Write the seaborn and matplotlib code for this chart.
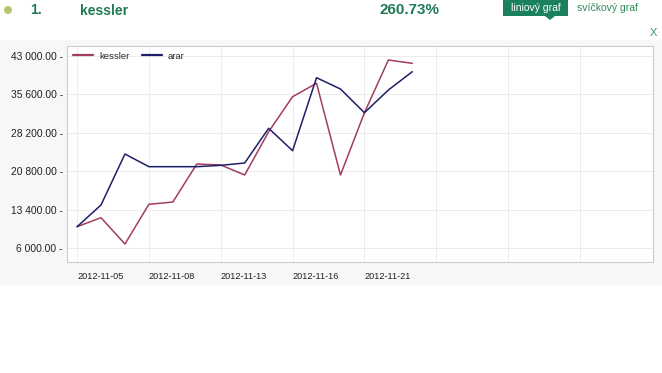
import numpy as np
import pandas as pd
import matplotlib
matplotlib.use("Agg")
import matplotlib.pyplot as plt
from matplotlib.patches import Rectangle, Polygon, Ellipse
import seaborn as sns

# trading days shown on the chart
dates = ["2012-11-05", "2012-11-06", "2012-11-07", "2012-11-08", "2012-11-09",
         "2012-11-12", "2012-11-13", "2012-11-14", "2012-11-15", "2012-11-16",
         "2012-11-19", "2012-11-20", "2012-11-21", "2012-11-22", "2012-11-23"]
kessler = [10100, 11840, 6770, 14420, 14860, 22190, 22000, 20070, 28400,
           35160, 37740, 20070, 32070, 42230, 41590]
arar = [10100, 14290, 24110, 21670, 21670, 21670, 21930, 22380, 29070,
        24750, 38820, 36640, 32070, 36450, 39980]
series_names = ["kessler", "arar"]
yticks = [6000, 13400, 20800, 28200, 35600, 43000]
label_every = 3

df = pd.DataFrame({
    "pos": list(range(len(dates))) * 2,
    "value": kessler + arar,
    "series": ["kessler"] * len(dates) + ["arar"] * len(dates),
})

sns.set_style("white")
plt.rcParams["font.family"] = ["Liberation Sans", "DejaVu Sans"]

fig = plt.figure(figsize=(6.62, 3.73), dpi=100)
fig.patch.set_facecolor("white")

# grey panel behind the chart
fig.patches.append(Rectangle((0, 1 - 285 / 373), 1, (285 - 40) / 373,
                             transform=fig.transFigure, facecolor="#f7f7f7",
                             edgecolor="none", zorder=-5))

ax = fig.add_axes([67 / 662, 1 - 262 / 373, (653 - 67) / 662, (262 - 46) / 373])
ax.set_zorder(2)
ax.set_facecolor("white")

sns.lineplot(data=df, x="pos", y="value", hue="series", hue_order=series_names,
             palette={"kessler": "#a23c60", "arar": "#1e1e68"},
             linewidth=1.1, ax=ax)

ax.set_xlim(-0.42, 24.05)
ax.set_ylim(3300, 44930)

tick_pos = list(range(0, len(dates), label_every))
ax.set_xticks(tick_pos)
ax.set_xticklabels([dates[i] for i in tick_pos], fontsize=6.6, color="#222222",
                   ha="left")
ax.set_xticks([15, 18, 21], minor=True)
ax.tick_params(axis="x", which="major", length=2.5, width=0.6, color="#999999",
               direction="out", pad=5)
ax.tick_params(axis="x", which="minor", length=0)
ax.set_yticks(yticks)
ax.set_yticklabels([f"{v:,.2f}".replace(",", " ") + " -" for v in yticks],
                   fontsize=7.4, color="#222222")
ax.tick_params(axis="y", length=0, pad=3)

ax.grid(True, which="both", color="#ececec", linewidth=0.7)
ax.set_axisbelow(True)
for s in ax.spines.values():
    s.set_color("#cccccc")
    s.set_linewidth(0.8)
ax.set_xlabel("")
ax.set_ylabel("")

leg = ax.legend(loc="upper left", ncol=2, frameon=False, fontsize=6.8,
                handlelength=2.2, columnspacing=1.3, handletextpad=0.6,
                borderaxespad=0.2, borderpad=0.4)
for line in leg.get_lines():
    line.set_linewidth(1.6)

# header above the chart
green = "#1f7a55"
fig.patches.append(Ellipse((8 / 662, 1 - 10 / 373), 8 / 662, 8 / 373,
                           transform=fig.transFigure, facecolor="#b3c96b",
                           edgecolor="none"))
fig.text(30 / 662, 1 - 10 / 373, "1.", fontsize=10, fontweight="bold", color=green, va="center")
fig.text(80 / 662, 1 - 11 / 373, "kessler", fontsize=10, fontweight="bold", color=green, va="center")
fig.text(380 / 662, 1 - 10 / 373, "260.73%", fontsize=11, fontweight="bold", color=green, va="center")
fig.patches.append(Rectangle((503 / 662, 1 - 16 / 373), 65 / 662, 16 / 373,
                             transform=fig.transFigure, facecolor="#1a8060", edgecolor="none"))
fig.patches.append(Polygon([(545 / 662, 1 - 16 / 373), (555 / 662, 1 - 16 / 373),
                            (550 / 662, 1 - 20 / 373)], closed=True,
                           transform=fig.transFigure, facecolor="#1a8060", edgecolor="none"))
fig.text(535.5 / 662, 1 - 8 / 373, "liniový graf", fontsize=7.5, color="white",
         ha="center", va="center")
fig.text(577 / 662, 1 - 8 / 373, "svíčkový graf", fontsize=7.5, color="#2e8a5a", va="center")
fig.text(650 / 662, 1 - 33 / 373, "X", fontsize=8, color="#3a9a6a", va="center")

fig.savefig("out.png", dpi=100)
